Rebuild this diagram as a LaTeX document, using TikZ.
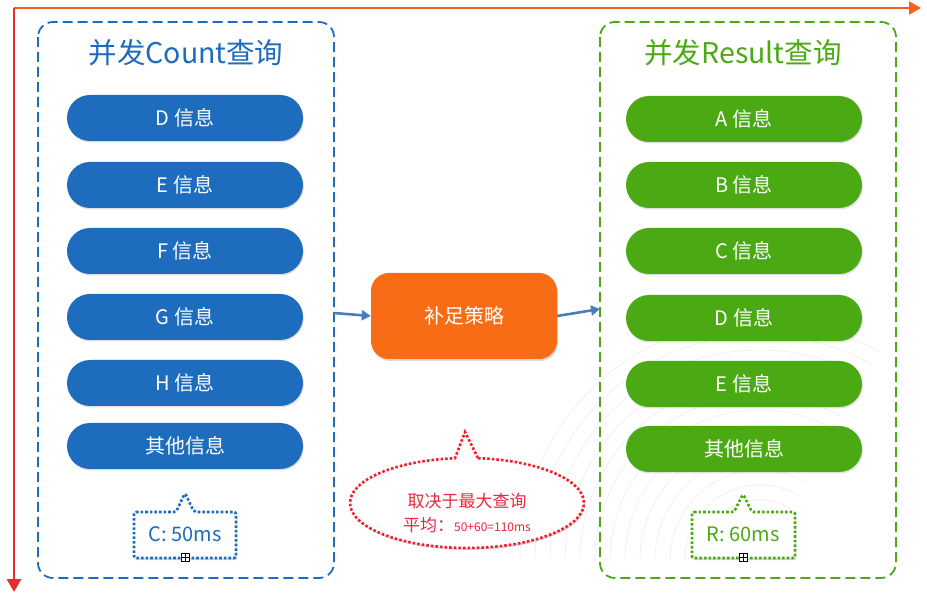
\documentclass[tikz,border=0pt]{standalone}
\usepackage{fontspec}
\setmainfont{Noto Sans CJK SC}
\usetikzlibrary{shadows,arrows.meta}
\definecolor{bluec}{HTML}{1D6CBD}
\definecolor{greenc}{HTML}{4BAA14}
\definecolor{orangec}{HTML}{F96C16}
\definecolor{arrowc}{HTML}{4A7EBB}
\definecolor{redc}{HTML}{F0202E}
\definecolor{redtxt}{HTML}{E8283C}
\definecolor{axisor}{HTML}{F2621A}
\definecolor{axisred}{HTML}{EE2A2A}
\definecolor{swirl}{HTML}{F0F0F0}
\tikzset{
  pill/.style={rounded corners=23pt, minimum width=236pt, minimum height=46pt, text=white,
     font=\fontsize{20}{22}\selectfont, inner sep=0pt,
     drop shadow={shadow xshift=0.8pt, shadow yshift=-1.5pt, opacity=0.25}},
  bluepill/.style={pill, fill=bluec},
  greenpill/.style={pill, fill=greenc},
  groupbox/.style={dash pattern=on 10pt off 5pt, line width=1.8pt, rounded corners=15pt},
  title/.style={font=\fontsize{28.5}{31}\selectfont},
  callout/.style={dash pattern=on 2.6pt off 2pt, line width=2.6pt, fill=white, rounded corners=2pt,
     drop shadow={shadow xshift=1pt, shadow yshift=-2pt, opacity=0.3}},
  flow/.style={-{Triangle[length=9pt,width=10pt]}, line width=2.6pt, arrowc},
  marker/.style={draw=black, fill=white, line width=0.6pt, minimum size=8pt, inner sep=0pt}
}
\begin{document}
\begin{tikzpicture}[x=1pt,y=-1pt]
\useasboundingbox (0,0) rectangle (927,601);
% faint background swirls
\begin{scope}[swirl, line width=0.8pt]
\foreach \r in {60,75,...,240}{
  \draw (760,560) ++(-\r,0) arc[start angle=180, end angle=300, radius=\r];
}
\end{scope}
% axes
\coordinate (o) at (14,8);
\coordinate (xend) at (921,8);
\coordinate (yend) at (14,592);
\draw[axisor, line width=2.6pt, -{Triangle[length=12pt,width=13pt]}] (o) -- (xend);
\draw[axisred, line width=2.8pt, -{Triangle[length=13pt,width=14pt]}] (o) -- (yend);
% group boxes
\draw[groupbox, draw=bluec] (38,22) rectangle (334,578);
\draw[groupbox, draw=greenc] (600,22) rectangle (896,578);
\node[title, text=bluec] (tl) at (186,53) {并发Count查询};
\node[title, text=greenc] (tr) at (743,53) {并发Result查询};
\coordinate (lbr) at (334,313);
\coordinate (rbl) at (600,309);
% blue pills
\node[bluepill] (d1) at (185,118) {D 信息};
\node[bluepill] (e1) at (185,185) {E 信息};
\node[bluepill] (f1) at (185,251) {F 信息};
\node[bluepill] (g1) at (185,317) {G 信息};
\node[bluepill] (h1) at (185,383) {H 信息};
\node[bluepill] (o1) at (185,446) {其他信息};
% green pills
\node[greenpill] (a2) at (744,119) {A 信息};
\node[greenpill] (b2) at (744,185) {B 信息};
\node[greenpill] (c2) at (744,251) {C 信息};
\node[greenpill] (d2) at (744,318) {D 信息};
\node[greenpill] (e2) at (744,384) {E 信息};
\node[greenpill] (o2) at (744,449) {其他信息};
% strategy
\node[fill=orangec, rounded corners=18pt, minimum width=186pt, minimum height=86pt, text=white,
  font=\fontsize{20}{22}\selectfont,
  drop shadow={shadow xshift=1pt, shadow yshift=-2pt, opacity=0.3}] (s) at (464,316) {补足策略};
\draw[flow] (lbr) -- (s.west);
\draw[flow] (s.east) -- (rbl);
% callout C
\draw[callout, draw=bluec] (134,512) -- (176,512) -- (185,493) -- (194,512) -- (236,512) -- (236,558) -- (134,558) -- cycle;
\node[text=bluec, font=\fontsize{20}{22}\selectfont] (ct) at (185,534) {C: 50ms};
\node[marker] (cm) at (185,557) {};
\draw[line width=0.6pt] (cm.west) -- (cm.east) (cm.north) -- (cm.south);
% callout R
\draw[callout, draw=greenc] (692,512) -- (734,512) -- (743,494) -- (752,512) -- (795,512) -- (795,558) -- (692,558) -- cycle;
\node[text=greenc, font=\fontsize{20}{22}\selectfont] (rt) at (743,534) {R: 60ms};
\node[marker] (rm) at (743,557) {};
\draw[line width=0.6pt] (rm.west) -- (rm.east) (rm.north) -- (rm.south);
% red ellipse callout
\draw[callout, draw=redc, rounded corners=0pt] (478,458.2) arc[start angle=-84.6, end angle=264.1, x radius=117, y radius=45] -- (465,432) -- cycle;
\node[text=redtxt, font=\fontsize{17}{19}\selectfont] (q1) at (467,501) {取决于最大查询};
\node[text=redtxt, font=\fontsize{17}{19}\selectfont] (q2) at (467,525) {平均：{\fontsize{12}{14}\selectfont 50+60=110ms}};
\end{tikzpicture}
\end{document}
